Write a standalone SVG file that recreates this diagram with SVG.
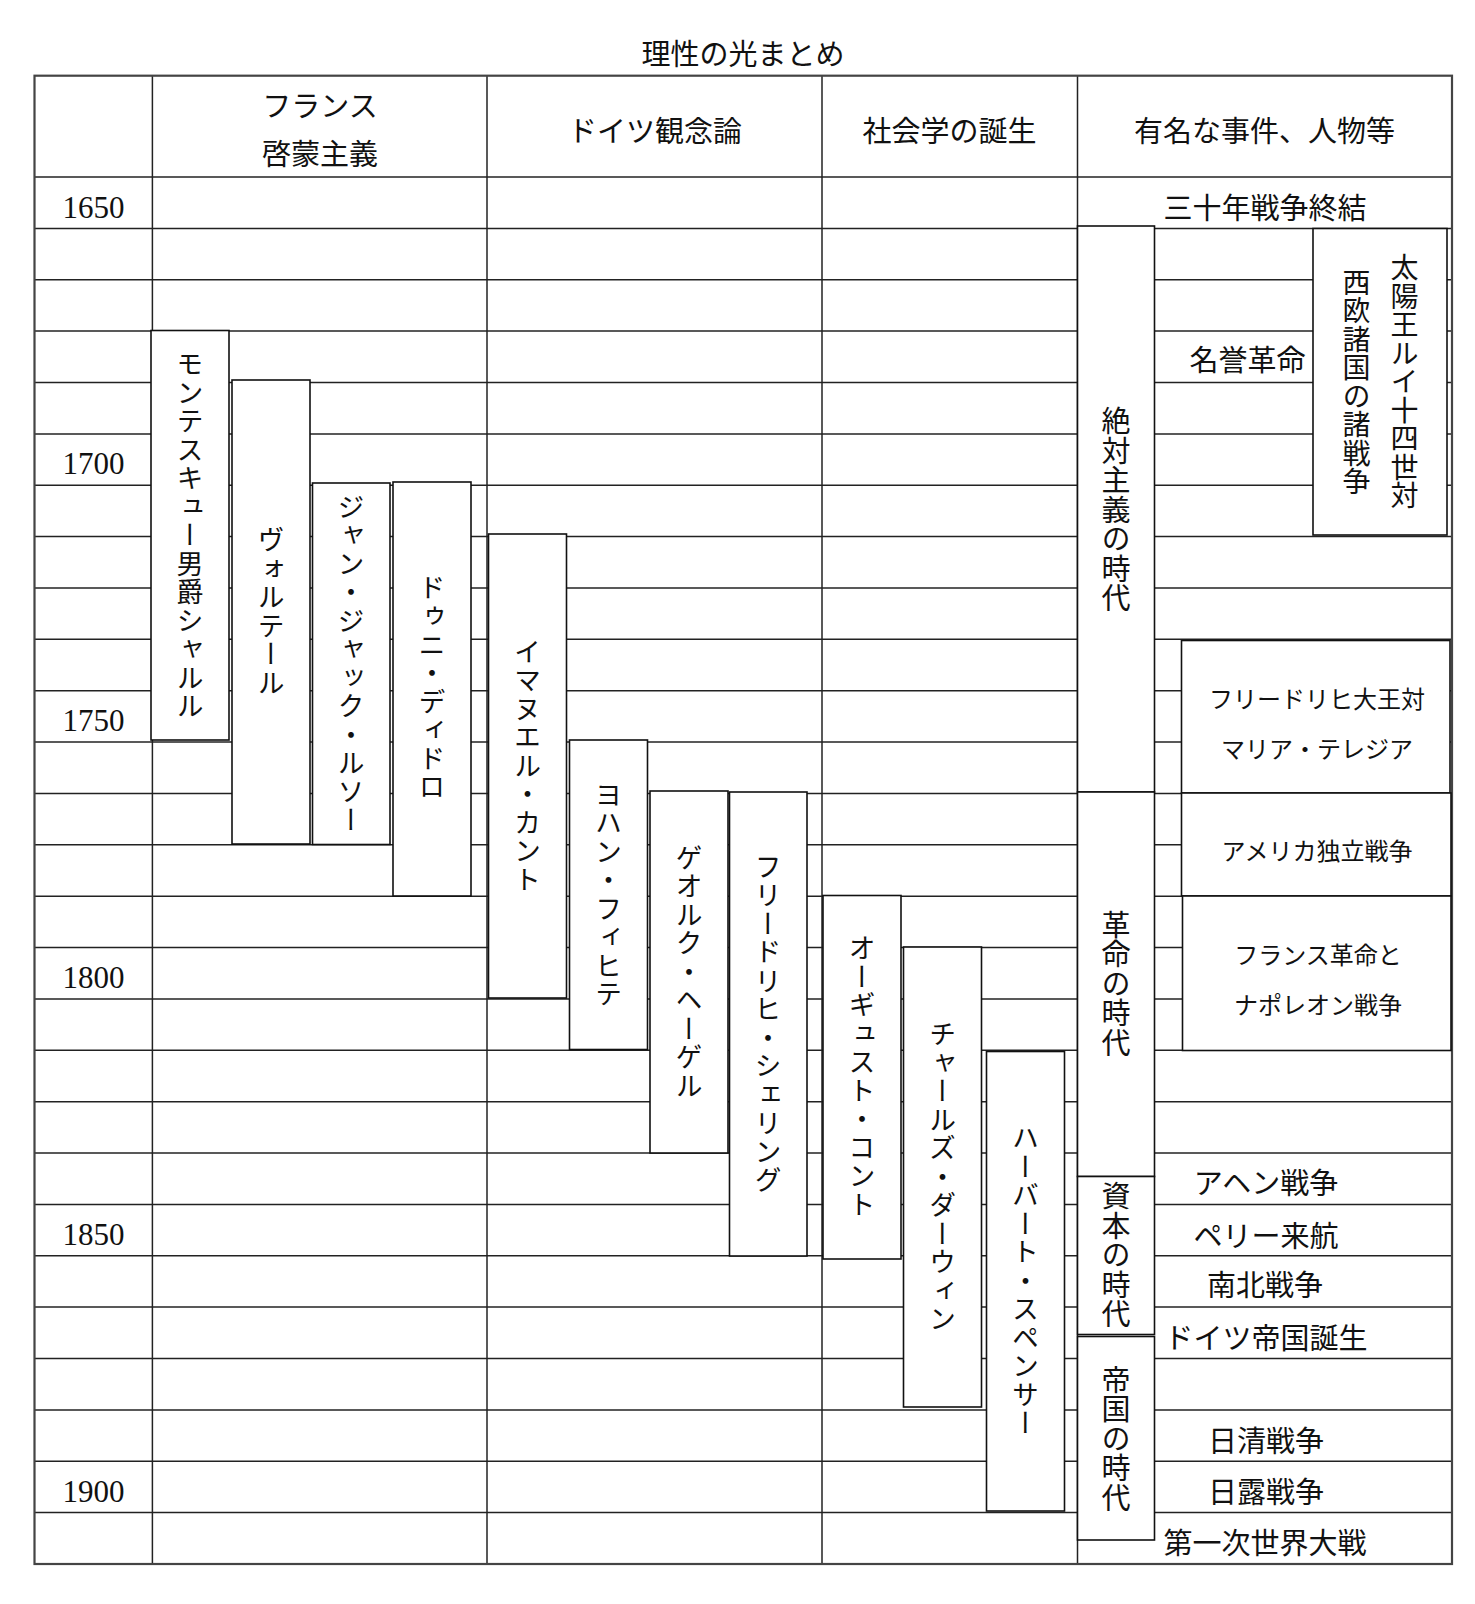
<svg xmlns="http://www.w3.org/2000/svg" width="1475" height="1604" viewBox="0 0 1475 1604">
<style>
.bg{fill:#fff}
.gl{stroke:#222;stroke-width:1.5;fill:none}
.outer{fill:none;stroke:#444;stroke-width:2.2}
.box{fill:#fff;stroke:#111;stroke-width:1.6}
.t{font-family:"Noto Sans CJK JP","Noto Sans CJK SC",sans-serif;fill:#111}
.h{font-size:29px;text-anchor:middle;dominant-baseline:central}
.s{font-size:24px;text-anchor:middle;dominant-baseline:central}
.v{writing-mode:vertical-rl;font-size:27px;letter-spacing:1.5px;text-anchor:middle}
.ve{writing-mode:vertical-rl;font-size:29px;letter-spacing:0.5px;text-anchor:middle}
.yr{font-family:"Liberation Serif","Times New Roman",serif;font-size:31px;text-anchor:middle;fill:#111}
</style>
<rect class="bg" x="0" y="0" width="1475" height="1604"/>
<text id="title" class="t h" x="743" y="52">理性の光まとめ</text>
<g id="grid">
<line class="gl" x1="34.5" y1="177" x2="1452" y2="177"/>
<line class="gl" x1="34.5" y1="228.4" x2="1452" y2="228.4"/>
<line class="gl" x1="34.5" y1="279.7" x2="1452" y2="279.7"/>
<line class="gl" x1="34.5" y1="331.1" x2="1452" y2="331.1"/>
<line class="gl" x1="34.5" y1="382.5" x2="1452" y2="382.5"/>
<line class="gl" x1="34.5" y1="433.9" x2="1452" y2="433.9"/>
<line class="gl" x1="34.5" y1="485.2" x2="1452" y2="485.2"/>
<line class="gl" x1="34.5" y1="536.6" x2="1452" y2="536.6"/>
<line class="gl" x1="34.5" y1="588" x2="1452" y2="588"/>
<line class="gl" x1="34.5" y1="639.3" x2="1452" y2="639.3"/>
<line class="gl" x1="34.5" y1="690.7" x2="1452" y2="690.7"/>
<line class="gl" x1="34.5" y1="742.1" x2="1452" y2="742.1"/>
<line class="gl" x1="34.5" y1="793.4" x2="1452" y2="793.4"/>
<line class="gl" x1="34.5" y1="844.8" x2="1452" y2="844.8"/>
<line class="gl" x1="34.5" y1="896.2" x2="1452" y2="896.2"/>
<line class="gl" x1="34.5" y1="947.6" x2="1452" y2="947.6"/>
<line class="gl" x1="34.5" y1="998.9" x2="1452" y2="998.9"/>
<line class="gl" x1="34.5" y1="1050.3" x2="1452" y2="1050.3"/>
<line class="gl" x1="34.5" y1="1101.7" x2="1452" y2="1101.7"/>
<line class="gl" x1="34.5" y1="1153" x2="1452" y2="1153"/>
<line class="gl" x1="34.5" y1="1204.4" x2="1452" y2="1204.4"/>
<line class="gl" x1="34.5" y1="1255.8" x2="1452" y2="1255.8"/>
<line class="gl" x1="34.5" y1="1307.1" x2="1452" y2="1307.1"/>
<line class="gl" x1="34.5" y1="1358.5" x2="1452" y2="1358.5"/>
<line class="gl" x1="34.5" y1="1409.9" x2="1452" y2="1409.9"/>
<line class="gl" x1="34.5" y1="1461.3" x2="1452" y2="1461.3"/>
<line class="gl" x1="34.5" y1="1512.6" x2="1452" y2="1512.6"/>
<line class="gl" x1="152.4" y1="75.7" x2="152.4" y2="1564"/>
<line class="gl" x1="487" y1="75.7" x2="487" y2="1564"/>
<line class="gl" x1="822" y1="75.7" x2="822" y2="1564"/>
<line class="gl" x1="1077.5" y1="75.7" x2="1077.5" y2="1564"/>
<rect class="outer" x="34.5" y="75.7" width="1417.5" height="1488.3"/>
</g>
<g id="headers">
<text class="t h" x="320" y="104">フランス</text>
<text class="t h" x="320" y="152">啓蒙主義</text>
<text class="t h" x="655" y="129">ドイツ観念論</text>
<text class="t h" x="949.5" y="129">社会学の誕生</text>
<text class="t h" x="1264.5" y="129">有名な事件、人物等</text>
</g>
<g id="years">
<text class="yr" x="93.5" y="217.5">1650</text>
<text class="yr" x="93.5" y="474.4">1700</text>
<text class="yr" x="93.5" y="731.2">1750</text>
<text class="yr" x="93.5" y="988.1">1800</text>
<text class="yr" x="93.5" y="1244.9">1850</text>
<text class="yr" x="93.5" y="1501.8">1900</text>
</g>
<g id="montesquieu"><rect class="box" x="151" y="330.5" width="78" height="409.5"/><text class="t v" x="190" y="535.5">モンテスキュー男爵シャルル</text></g>
<g id="voltaire"><rect class="box" x="232" y="380" width="78" height="464"/><text class="t v" x="271" y="612">ヴォルテール</text></g>
<g id="rousseau"><rect class="box" x="312.5" y="483" width="77.5" height="361.5"/><text class="t v" x="351" y="664">ジャン・ジャック・ルソー</text></g>
<g id="diderot"><rect class="box" x="393" y="482" width="78" height="414"/><text class="t v" x="432" y="688">ドゥニ・ディドロ</text></g>
<g id="kant"><rect class="box" x="488.5" y="534" width="78" height="464"/><text class="t v" x="527.5" y="766">イマヌエル・カント</text></g>
<g id="fichte"><rect class="box" x="569.5" y="740" width="78" height="309.5"/><text class="t v" x="608.5" y="895">ヨハン・フィヒテ</text></g>
<g id="hegel"><rect class="box" x="650" y="791" width="78" height="362"/><text class="t v" x="689" y="972">ゲオルク・ヘーゲル</text></g>
<g id="schelling"><rect class="box" x="729.5" y="792" width="77.5" height="464"/><text class="t v" x="768" y="1024">フリードリヒ・シェリング</text></g>
<g id="comte"><rect class="box" x="823" y="895.5" width="78" height="363.5"/><text class="t v" x="862" y="1077">オーギュスト・コント</text></g>
<g id="darwin"><rect class="box" x="903.5" y="947" width="78" height="460"/><text class="t v" x="942.5" y="1177">チャールズ・ダーウィン</text></g>
<g id="spencer"><rect class="box" x="986.5" y="1051.5" width="78" height="459.5"/><text class="t v" x="1025.5" y="1281">ハーバート・スペンサー</text></g>
<g id="era-absolutism"><rect class="box" x="1077.5" y="226" width="77" height="566"/><text class="t ve" x="1116" y="510">絶対主義の時代</text></g>
<g id="era-revolution"><rect class="box" x="1077.5" y="792" width="77" height="384.5"/><text class="t ve" x="1116" y="984">革命の時代</text></g>
<g id="era-capital"><rect class="box" x="1077.5" y="1176.5" width="77" height="158"/><text class="t ve" x="1116" y="1255.5">資本の時代</text></g>
<g id="era-empire"><rect class="box" x="1077.5" y="1336.5" width="77" height="203.5"/><text class="t ve" x="1116" y="1439">帝国の時代</text></g>
<g id="ev-louis"><rect class="box" x="1313" y="228.5" width="134" height="306.5"/><text class="t ve" style="font-size:28px" x="1404.5" y="382">太陽王ルイ十四世対</text><text class="t ve" style="font-size:28px" x="1356.5" y="382">西欧諸国の諸戦争</text></g>
<g id="ev-frederick"><rect class="box" x="1181.5" y="640.5" width="268.5" height="152.5"/><text class="t s" x="1317" y="697">フリードリヒ大王対</text><text class="t s" x="1317" y="747">マリア・テレジア</text></g>
<g id="ev-america"><rect class="box" x="1181.5" y="793" width="269.5" height="103"/><text class="t s" x="1317" y="849">アメリカ独立戦争</text></g>
<g id="ev-france"><rect class="box" x="1182.5" y="896" width="268.5" height="154.5"/><text class="t s" x="1318" y="953">フランス革命と</text><text class="t s" x="1318" y="1003">ナポレオン戦争</text></g>
<g id="events">
<text class="t h" x="1265" y="206">三十年戦争終結</text>
<text class="t h" x="1247.5" y="358">名誉革命</text>
<text class="t h" x="1266" y="1181">アヘン戦争</text>
<text class="t h" x="1266" y="1233.5">ペリー来航</text>
<text class="t h" x="1265" y="1283">南北戦争</text>
<text class="t h" x="1266" y="1335.5">ドイツ帝国誕生</text>
<text class="t h" x="1266" y="1439">日清戦争</text>
<text class="t h" x="1266" y="1490">日露戦争</text>
<text class="t h" x="1265" y="1540.5">第一次世界大戦</text>
</g>
</svg>
